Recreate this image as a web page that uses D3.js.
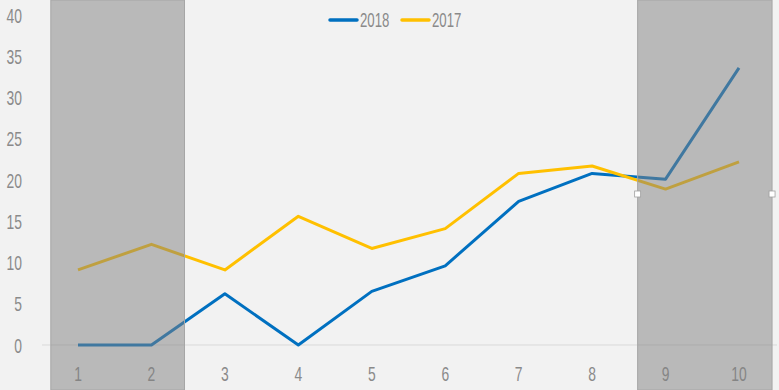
<!DOCTYPE html>
<html>
<head>
<meta charset="utf-8">
<script src="https://cdn.jsdelivr.net/npm/d3@7"></script>
<style>
    body { margin: 0; background: #f2f2f2; }
    svg text { font-family: "Liberation Sans", Arial, sans-serif; fill: #8a8a8a; }
</style>
</head>
<body>
<div id="chart"></div>
<script>

// chart data
var categories = [1, 2, 3, 4, 5, 6, 7, 8, 9, 10];
var series2018 = [0, 0, 6.2, 0, 6.5, 9.6, 17.4, 20.8, 20.1, 33.6];
var series2017 = [9.1, 12.2, 9.1, 15.6, 11.7, 14.1, 20.8, 21.7, 18.9, 22.2];
var yTicks = [0, 5, 10, 15, 20, 25, 30, 35, 40];
// shaded spans, in category units
var shadeFrom = [0.63, 8.62];
var shadeTo = [2.45, 10.45];

var width = 779,
    height = 390;
var squeeze = 0.66; // the original font is a condensed one

var svg = d3.select("#chart").append("svg")
    .attr("width", width)
    .attr("height", height);

svg.append("rect")
    .attr("width", width)
    .attr("height", height)
    .attr("fill", "#f2f2f2");

var x = d3.scaleLinear().domain([1, 10]).range([78, 739]);
var y = d3.scaleLinear().domain([0, 40]).range([345, 15]);

// zero line
svg.append("line")
    .attr("x1", 42)
    .attr("x2", 777)
    .attr("y1", y(0))
    .attr("y2", y(0))
    .attr("stroke", "#d9d9d9")
    .attr("stroke-width", 1);

// y axis labels
svg.selectAll(".ylab")
    .data(yTicks)
    .enter().append("text")
    .attr("class", "ylab")
    .attr("transform", function(d) { return "translate(22," + y(d) + ") scale(" + squeeze + ",1)"; })
    .attr("dy", "0.36em")
    .attr("text-anchor", "end")
    .style("font-size", "21px")
    .text(function(d) { return d; });

// x axis labels
svg.selectAll(".xlab")
    .data(categories)
    .enter().append("text")
    .attr("class", "xlab")
    .attr("transform", function(d) { return "translate(" + x(d) + ",373) scale(" + squeeze + ",1)"; })
    .attr("dy", "0.36em")
    .attr("text-anchor", "middle")
    .style("font-size", "21px")
    .text(function(d) { return d; });

var line = d3.line()
    .x(function(d, i) { return x(categories[i]); })
    .y(function(d) { return y(d); });

svg.append("path")
    .datum(series2018)
    .attr("d", line)
    .attr("fill", "none")
    .attr("stroke", "#0070c0")
    .attr("stroke-width", 3)
    .attr("stroke-linejoin", "round");

svg.append("path")
    .datum(series2017)
    .attr("d", line)
    .attr("fill", "none")
    .attr("stroke", "#ffc000")
    .attr("stroke-width", 3)
    .attr("stroke-linejoin", "round");

// shaded spans on top of the lines
svg.selectAll(".shade")
    .data(shadeFrom)
    .enter().append("rect")
    .attr("class", "shade")
    .attr("x", function(d) { return x(d); })
    .attr("y", 0)
    .attr("width", function(d, i) { return x(shadeTo[i]) - x(d); })
    .attr("height", height)
    .attr("fill", "#7f7f7f")
    .attr("fill-opacity", 0.5)
    .attr("stroke", "#a6a6a6")
    .attr("stroke-width", 1);

// selection handles on the right span
var handleX = [x(shadeFrom[1]), x(shadeTo[1])];
svg.selectAll(".handle")
    .data(handleX)
    .enter().append("rect")
    .attr("class", "handle")
    .attr("x", function(d) { return d - 3; })
    .attr("y", 191)
    .attr("width", 6)
    .attr("height", 6)
    .attr("fill", "#ffffff")
    .attr("stroke", "#a0a0a0")
    .attr("stroke-width", 0.8);

// legend
var legend = [
    {name: "2018", color: "#0070c0", x: 330},
    {name: "2017", color: "#ffc000", x: 402}
];
var lg = svg.selectAll(".legend")
    .data(legend)
    .enter().append("g")
    .attr("class", "legend")
    .attr("transform", function(d) { return "translate(" + d.x + ",20)"; });

lg.append("line")
    .attr("x1", 0)
    .attr("x2", 27)
    .attr("stroke", function(d) { return d.color; })
    .attr("stroke-width", 3.5)
    .attr("stroke-linecap", "round");

lg.append("text")
    .attr("transform", "translate(30,0) scale(" + squeeze + ",1)")
    .attr("dy", "0.36em")
    .style("font-size", "20px")
    .text(function(d) { return d.name; });

</script>
</body>
</html>
